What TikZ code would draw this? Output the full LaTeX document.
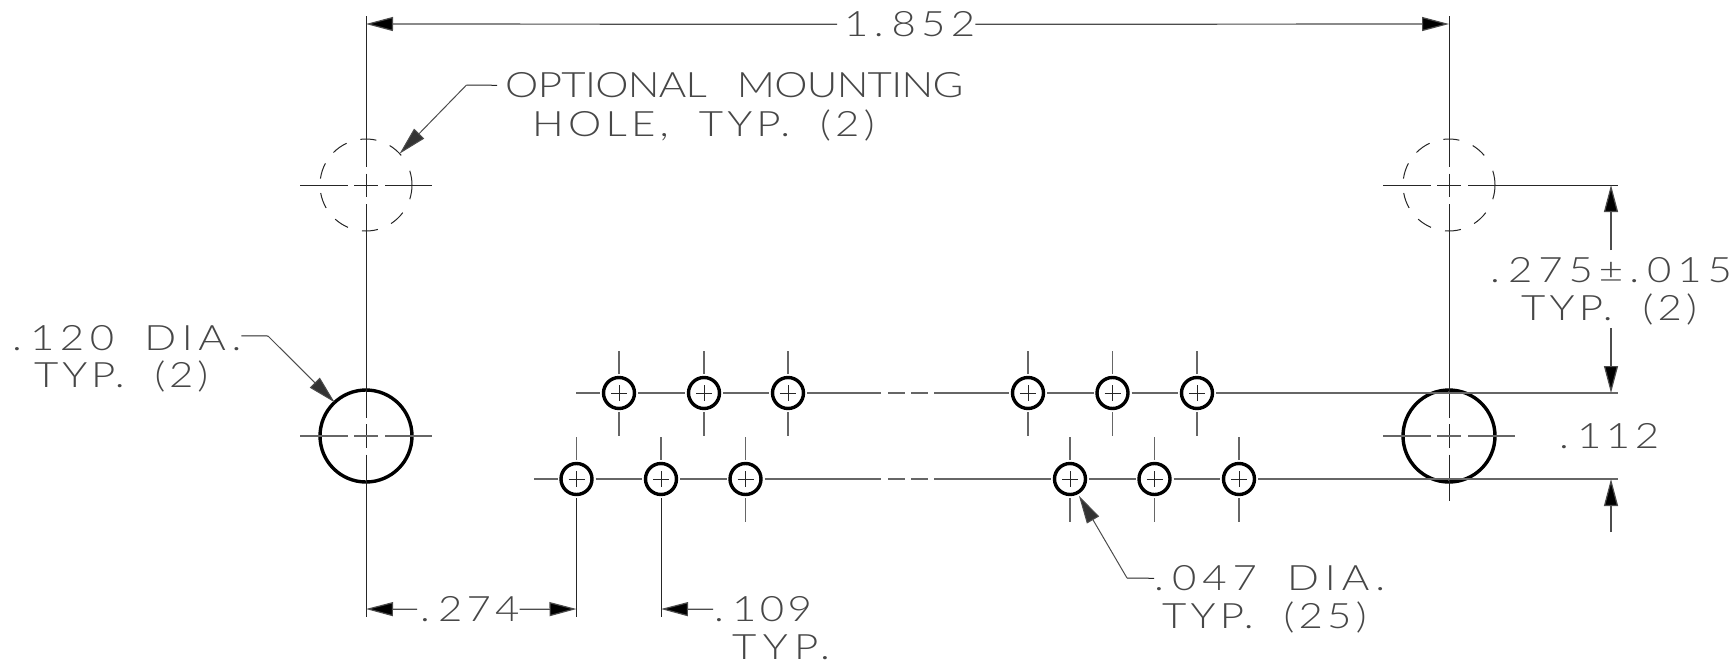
\documentclass[tikz,border=0pt]{standalone}
\usepackage{fontspec}
\usepackage{tikz}
\usetikzlibrary{arrows.meta, calc}
\newfontfamily\cadfont[FakeStretch=1.2]{Lato Light}
\newcommand{\dt}{.\kern 8pt}
\newcommand{\cadwords}{\spaceskip 30pt\relax}
\tikzset{
  cadlabel/.style={inner sep=0pt, anchor=south west, text height=25pt, text depth=0pt, text=black!72,
    font=\cadfont\fontsize{35}{35}\selectfont\addfontfeature{LetterSpace=#1},
    execute at begin node=\cadwords},
  cadlabel/.default=14,
  fine/.style={line width=1pt, draw=black!85},
  gridline/.style={line width=1.4pt, draw=black!60},
  dimline/.style={line width=1.6pt, draw=black!60},
  dimarrow/.style={line width=1.2pt, draw=black!70, -{Triangle[length=27pt,width=14pt,fill=black]}},
  leader/.style={line width=1pt, draw=black!70, -{Triangle[length=28pt,width=14pt,fill=black!80]}},
  bighole/.style={circle, draw, line width=3.4pt, minimum size=92pt, inner sep=0pt, outer sep=0pt},
  opthole/.style={circle, minimum size=92pt, inner sep=0pt, outer sep=0pt},
  pinhole/.style={circle, draw, line width=3.4pt, minimum size=31pt, inner sep=0pt, outer sep=3.5pt},
}
\begin{document}
\begin{tikzpicture}[x=1pt, y=-1pt]
  \useasboundingbox (0,0) rectangle (1733,670);
  % mounting holes
  \node[opthole] (optL) at (366,185) {};
  \node[opthole] (optR) at (1449,185) {};
  \node[bighole] (holeL) at (366,436) {};
  \node[bighole] (holeR) at (1449,436) {};
  \coordinate (endL) at (366,617);
  \coordinate (endR) at (1449,501);
  \foreach \s in {L,R} {
    \foreach \a/\b in {-97/-77, -59/-40, -18/18, 37/57, 75/95, 113/132, 150/170, 188/208, 225/245}
      \draw[fine] ([shift={(\a:46)}]opt\s.center) arc[start angle=\a, end angle=\b, radius=46];
    % centre lines
    \draw[fine] ($(opt\s)+(0,-169)$) -- ($(opt\s)+(0,-18.5)$);
    \draw[fine] ($(opt\s)+(0,-11.5)$) -- ($(opt\s)+(0,12)$);
    \draw[fine] ($(opt\s)+(0,19)$) -- ($(hole\s)+(0,-18.5)$);
    \draw[fine] ($(hole\s)+(0,-12)$) -- ($(hole\s)+(0,12)$);
    \draw[fine] ($(hole\s)+(0,18.5)$) -- (end\s);
    \draw[fine] ($(opt\s)+(-66,0)$) -- ($(opt\s)+(-18.5,0)$);
    \draw[fine] ($(opt\s)+(-12,0)$) -- ($(opt\s)+(12,0)$);
    \draw[gridline] ($(hole\s)+(-66,0)$) -- ($(hole\s)+(-18.5,0)$);
    \draw[gridline] ($(hole\s)+(-12,0)$) -- ($(hole\s)+(12,0)$);
    \draw[gridline] ($(hole\s)+(19,0)$) -- ($(hole\s)+(66,0)$);
  }
  \draw[fine] ($(optL)+(19,0)$) -- ($(optL)+(66,0)$);
  % pin holes
  \foreach \n/\x in {a1/619, a2/704, a3/788, a4/1028, a5/1112.5, a6/1197} {
    \node[pinhole] (\n) at (\x,393) {};
  }
  \foreach \n/\x in {b1/576.5, b2/661, b3/745.5, b4/1070, b5/1154.5, b6/1239} {
    \node[pinhole] (\n) at (\x,479) {};
  }
  \foreach \n in {a1,a2,a3,a4,a5,a6,b1,b2,b3,b4,b5,b6} {
    \draw[fine] ($(\n)+(-8,0)$) -- ($(\n)+(8,0)$);
    \draw[fine] ($(\n)+(0,-8)$) -- ($(\n)+(0,8)$);
    \draw[gridline] (\n.north) -- ++(0,-23.5);
  }
  \foreach \n in {a1,a2,a3,a4,a5,a6,b3,b4,b5,b6}
    \draw[gridline] (\n.south) -- ++(0,23.5);
  % rows of pins
  \coordinate (startA) at (576,393);
  \coordinate (startB) at (534,479);
  \coordinate (endA) at (1618,393);
  \coordinate (endB) at (1618,479);
  \coordinate (extTop) at (1618,185);
  \draw[gridline] (startA) -- (a1.west);
  \draw[gridline] (startB) -- (b1.west);
  \foreach \p/\q in {a1/a2, a2/a3, a4/a5, a5/a6, b1/b2, b2/b3, b4/b5, b5/b6}
    \draw[gridline] (\p) -- (\q);
  \draw[gridline] (a6) -- (endA);
  \draw[gridline] (b6) -- (endB);
  \draw[fine] ($(optR)+(19,0)$) -- (extTop);
  \foreach \r/\y/\p/\q in {A/393/a3/a4, B/479/b3/b4} {
    \coordinate (gapS\r) at (881,\y);
    \coordinate (gapE\r) at (934,\y);
    \draw[gridline] (\p) -- (gapS\r);
    \draw[gridline] (gapE\r) -- (\q);
    \draw[gridline] (888,\y) -- (905,\y);
    \draw[gridline] (911,\y) -- (928,\y);
  }
  % extension lines below
  \coordinate (ext274) at (576.5,617);
  \coordinate (ext109) at (661,617);
  \draw[fine] (b1.south) -- (ext274);
  \draw[fine] (b2.south) -- (ext109);
  % texts
  \node[cadlabel=15] (overall) at (844,37) {1\dt 852};
  \node[cadlabel=-2] (optlabel) at (505,98) {OPTIONAL MOUNTING};
  \node[cadlabel=12] (optlabelb) at (532,137) {HOLE, TYP. (2)};
  \node[cadlabel=16] (bigdia) at (12,351) {\dt 120 DIA.};
  \node[cadlabel=11] (bigdiab) at (34,388) {TYP. (2)};
  \node[cadlabel=17] (pindia) at (1154,591) {\dt 047 DIA.};
  \node[cadlabel=12] (pindiab) at (1162,629) {TYP. (25)};
  \node[cadlabel=17] (dim275) at (1490,283) {\dt 275±\dt 015};
  \node[cadlabel=12] (dim275b) at (1521,321) {TYP. (2)};
  \node[cadlabel=13] (dim112) at (1559,449) {\dt 112};
  \node[cadlabel=12] (dim274) at (420,622) {\dt 274};
  \node[cadlabel=10] (dim109) at (714,622) {\dt 109};
  \node[cadlabel=18] (dim109b) at (732,660) {TYP.};
  % dimension arrows
  \coordinate (overallL) at (366,24);
  \coordinate (overallR) at (1449,24);
  \draw[dimline, dimarrow, shorten <=7pt] (overall.west) -- (overallL);
  \draw[dimline, dimarrow] (overall.east) -- (overallR);
  \coordinate (a274) at (366,609);
  \coordinate (b274) at (576.5,609);
  \coordinate (a109) at (661,609);
  \draw[dimarrow, shorten <=3pt] (dim274.west) -- (a274);
  \draw[dimarrow] (dim274.east) -- (b274);
  \draw[dimarrow, shorten <=1pt] (dim109.west) -- (a109);
  \coordinate (tip275a) at (1611,185);
  \coordinate (tip275b) at (1611,393);
  \coordinate (tip112) at (1611,479);
  \coordinate (from275a) at (1611,250);
  \coordinate (from275b) at (1611,328);
  \coordinate (from112) at (1611,532);
  \draw[dimarrow] (from275a) -- (tip275a);
  \draw[dimarrow] (from275b) -- (tip275b);
  \draw[dimarrow] (from112) -- (tip112);
  % leaders
  \coordinate (kneeOpt) at (466.5,85);
  \coordinate (kneeBig) at (268,336);
  \coordinate (kneePin) at (1127,578);
  \draw[fine] (optlabel.west) ++(-8,0) -- (kneeOpt);
  \draw[leader] (kneeOpt) -- (optL.43);
  \draw[fine] ([yshift=2.5pt]bigdia.east) -- (kneeBig);
  \draw[leader] (kneeBig) -- (holeL.133);
  \draw[fine] (pindia.west) -- (kneePin);
  \draw[leader] (kneePin) -- (b4.-62);
\end{tikzpicture}
\end{document}
